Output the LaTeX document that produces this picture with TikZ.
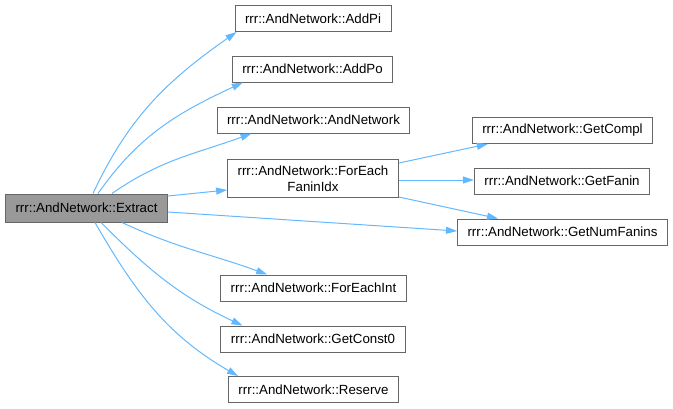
\documentclass[tikz,border=0pt]{standalone}
\usepackage{fontspec}
\setmainfont{Liberation Sans}
\usepackage{xcolor}
\usetikzlibrary{positioning, arrows.meta, calc}

\definecolor{edgeblue}{HTML}{63B8FF}
\definecolor{boxgray}{HTML}{666666}
\definecolor{rootfill}{HTML}{999999}

\begin{document}
\begin{tikzpicture}[
x=1pt, y=-1pt,
    func/.style={rectangle, draw=boxgray, line width=1pt, fill=white, align=center, minimum height=26pt, inner xsep=10pt, inner ysep=6pt, font=\fontsize{13.3}{16}\selectfont},
    root/.style={func, fill=rootfill, minimum height=28pt},
    line/.style={draw=edgeblue, line width=1pt, -{Triangle[length=11pt,width=7pt]}}
]
    \useasboundingbox (0,0) rectangle (673,408);

    % ================= CALLER =================
    \node[root] (Extract) at (86.5, 208) {rrr::AndNetwork::Extract};

    % ================= CALLEES =================
    \node[func] (AddPi) at (313, 18.5) {rrr::AndNetwork::AddPi};
    \node[func] (AddPo) at (312.5, 69) {rrr::AndNetwork::AddPo};
    \node[func] (AndNet) at (313.5, 120) {rrr::AndNetwork::AndNetwork};
    \node[func] (ForFanin) at (313, 178.5) {rrr::AndNetwork::ForEach\\FaninIdx};
    \node[func] (ForInt) at (313.5, 288) {rrr::AndNetwork::ForEachInt};
    \node[func] (Const0) at (313, 339) {rrr::AndNetwork::GetConst0};
    \node[func] (Reserve) at (313.5, 389.5) {rrr::AndNetwork::Reserve};

    \node[func] (Compl) at (562.5, 130.5) {rrr::AndNetwork::GetCompl};
    \node[func] (Fanin) at (562, 181) {rrr::AndNetwork::GetFanin};
    \node[func] (NumFanins) at (562.5, 232) {rrr::AndNetwork::GetNumFanins};

    % ================= CALLS FROM Extract =================
    \draw[line] ([xshift=6.5pt]Extract.north) to[out=65, in=215] ([xshift=2pt]AddPi.south west);
    \draw[line] ([xshift=11.5pt]Extract.north) to[out=55, in=205] ([xshift=11pt]AddPo.south west);
    \draw[line] ([xshift=25.5pt]Extract.north) to[out=35, in=200] ([xshift=35pt]AndNet.south west);
    \draw[line] ([yshift=12pt]Extract.east) -- ([yshift=-11.5pt]ForFanin.west);
    \draw[line] ([yshift=-4pt]Extract.east) -- ([yshift=1pt]NumFanins.west);
    \draw[line] ([xshift=35.5pt]Extract.south) to[out=-25, in=160] ([xshift=47pt]ForInt.north west);
    \draw[line] ([xshift=14.5pt]Extract.south) to[out=-45, in=155] ([xshift=22pt]Const0.north west);
    \draw[line] ([xshift=8.5pt]Extract.south) to[out=-60, in=150] ([xshift=10pt]Reserve.north west);

    % ================= CALLS FROM ForEachFaninIdx =================
    \draw[line] ([yshift=15.5pt]ForFanin.east) -- ([xshift=16pt]Compl.south west);
    \draw[line] ([yshift=-1.5pt]ForFanin.east) -- ([yshift=1pt]Fanin.west);
    \draw[line] ([yshift=-18.5pt]ForFanin.east) -- ([xshift=41pt]NumFanins.north west);

\end{tikzpicture}
\end{document}
